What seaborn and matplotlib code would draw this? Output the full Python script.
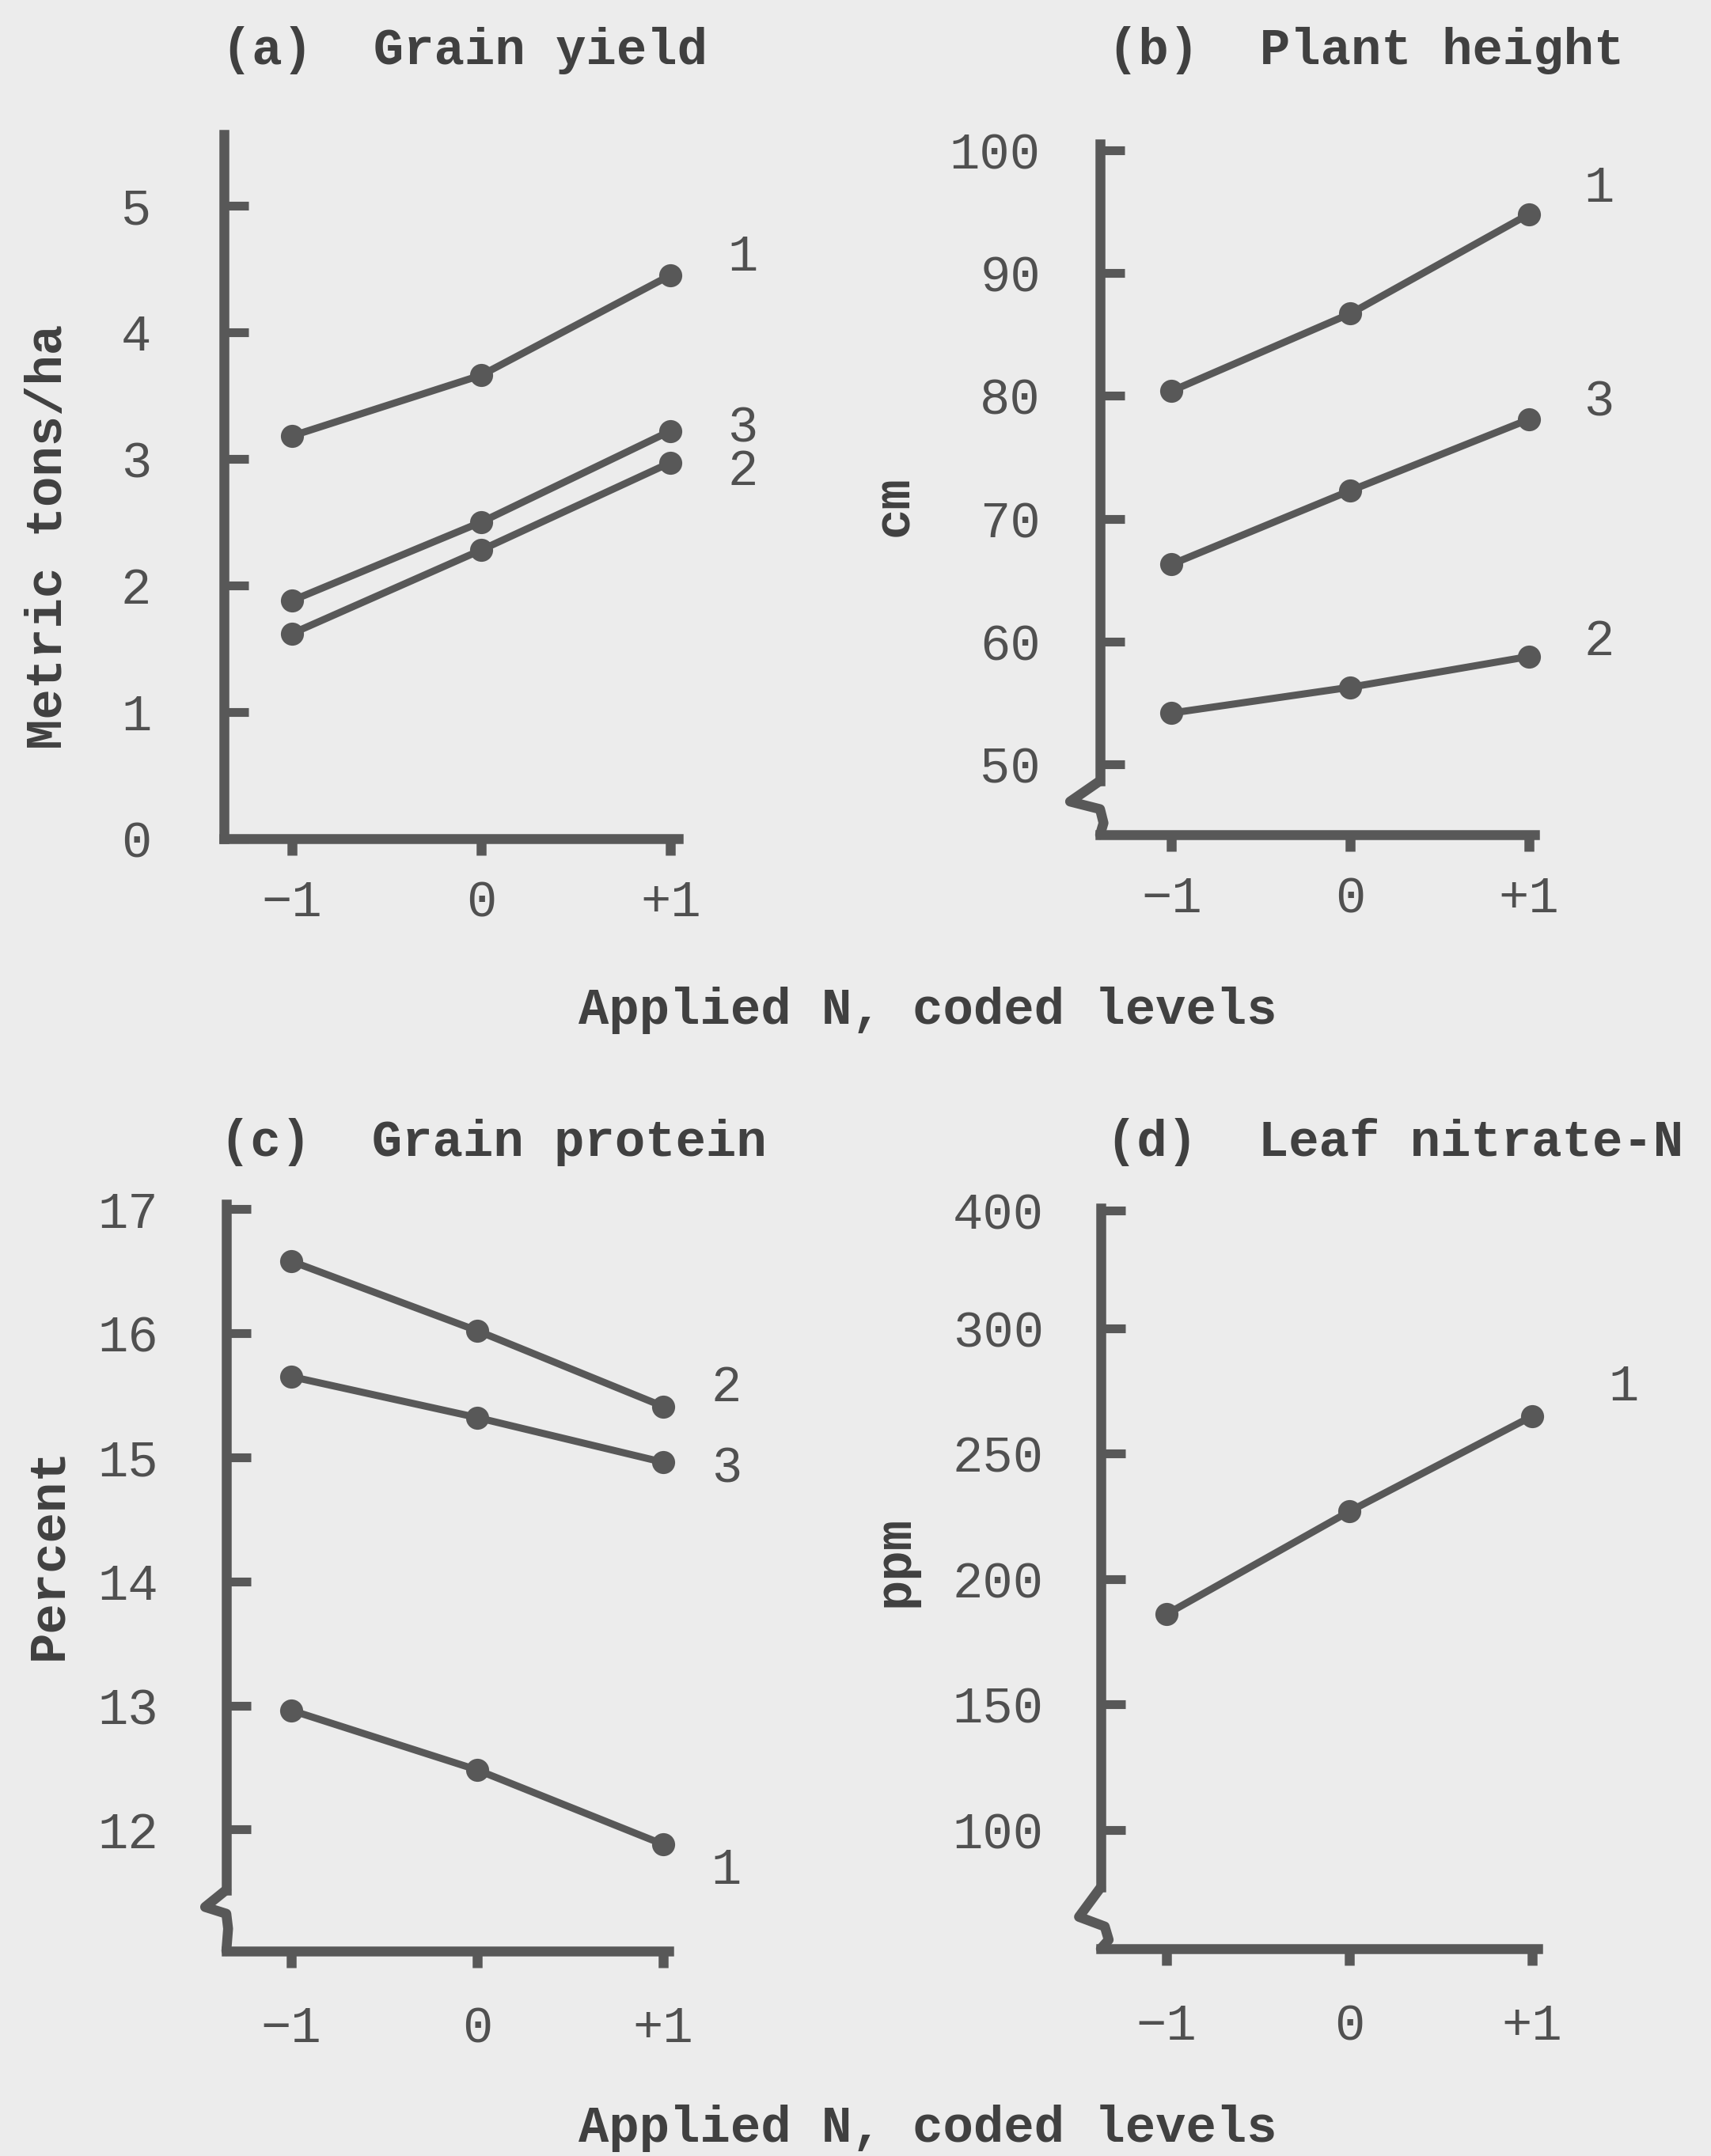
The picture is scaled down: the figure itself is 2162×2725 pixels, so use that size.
#!/usr/bin/env python3
import matplotlib
matplotlib.use("Agg")
import matplotlib.pyplot as plt
import pandas as pd
import seaborn as sns

# coded N levels on the x axis
LEVELS = [-1, 0, 1]
X_TICK_LABELS = ["\u22121", "0", "+1"]

# (a) grain yield, metric tons/ha
YIELD_1 = [3.18, 3.66, 4.45]
YIELD_2 = [1.62, 2.28, 2.97]
YIELD_3 = [1.88, 2.50, 3.22]

# (b) plant height, cm
HEIGHT_1 = [80.4, 86.7, 94.8]
HEIGHT_2 = [54.2, 56.3, 58.8]
HEIGHT_3 = [66.3, 72.3, 78.1]

# (c) grain protein, percent
PROTEIN_1 = [12.96, 12.48, 11.88]
PROTEIN_2 = [16.58, 16.02, 15.41]
PROTEIN_3 = [15.65, 15.32, 14.96]

# (d) leaf nitrate-N, ppm
NITRATE_1 = [186, 227, 265]

YTICKS_A = [0, 1, 2, 3, 4, 5]
YTICKS_B = [50, 60, 70, 80, 90, 100]
YTICKS_C = [12, 13, 14, 15, 16, 17]
# the top mark of (d) is labelled 400 in the original although it sits where 350 would be
YTICKS_D = [100, 150, 200, 250, 300, 347]
YTICK_LABELS_D = ["100", "150", "200", "250", "300", "400"]

BG = "#ececec"
INK = "#585858"
TEXT = "#404040"
TICK_TEXT = "#505050"
FONT = ["Liberation Mono", "DejaVu Sans Mono"]
FS = 46

W, H = 2162, 2725


def frac_box(left, top, right, bottom):
    return [left / W, 1 - bottom / H, (right - left) / W, (bottom - top) / H]


def long_frame(series):
    rows = []
    for name, values in series.items():
        for lvl, v in zip(LEVELS, values):
            rows.append({"level": lvl, "value": v, "series": name})
    return pd.DataFrame(rows)


def draw_panel(fig, box, series, xlim, ylim, yticks, yticklabels, ypad, xpad,
               labels, brk=None):
    ax = fig.add_axes(box)
    ax.set_facecolor(BG)
    df = long_frame(series)
    sns.lineplot(
        data=df, x="level", y="value", hue="series",
        palette={k: INK for k in series}, marker="o", markersize=21,
        markeredgewidth=0, linewidth=6.5, legend=False, ax=ax, sort=True,
    )
    for line in ax.get_lines():
        line.set_clip_on(False)
    ax.set_xlim(*xlim)
    ax.set_ylim(*ylim)
    ax.set_xticks(LEVELS)
    ax.set_xticklabels(X_TICK_LABELS)
    ax.set_yticks(yticks)
    ax.set_yticklabels(yticklabels)
    ax.set_xlabel("")
    ax.set_ylabel("")
    ax.grid(False)
    for side in ["top", "right"]:
        ax.spines[side].set_visible(False)
    for side in ["left", "bottom"]:
        ax.spines[side].set_color(INK)
        ax.spines[side].set_linewidth(9)
    ax.tick_params(axis="y", left=True, direction="in", length=22, width=8,
                   color=INK, pad=ypad, labelsize=FS, labelcolor=TICK_TEXT)
    ax.tick_params(axis="x", bottom=True, direction="out", length=15, width=9,
                   color=INK, pad=xpad, labelsize=FS, labelcolor=TICK_TEXT)
    for lab in ax.get_xticklabels() + ax.get_yticklabels():
        lab.set_family(FONT)
    for text, x, y in labels:
        ax.text(x, y, text, ha="center", va="center", fontsize=FS,
                color=TICK_TEXT, family=FONT)
    if brk is not None:
        y0, y1 = ylim
        ax.spines["left"].set_bounds(y0 + brk[0][1] * (y1 - y0), y1)
        xs = [p[0] for p in brk] + [0]
        ys = [p[1] for p in brk] + [0]
        ax.plot(xs, ys, transform=ax.transAxes, clip_on=False, color=INK,
                lw=9, solid_joinstyle="round", solid_capstyle="round")
    return ax


def main():
    sns.set_theme(style="white")
    plt.rcParams["font.family"] = FONT
    fig = plt.figure(figsize=(W / 100, H / 100), dpi=100, facecolor=BG)

    draw_panel(
        fig, frac_box(283, 170, 857, 1060),
        {"1": YIELD_1, "2": YIELD_2, "3": YIELD_3},
        (-1.36, 1.04), (0, 5.56), YTICKS_A, [str(t) for t in YTICKS_A],
        ypad=66, xpad=22,
        labels=[("1", 1.38, 4.59), ("3", 1.38, 3.24), ("2", 1.38, 2.90)],
    )
    draw_panel(
        fig, frac_box(1390, 182, 1939, 1055),
        {"1": HEIGHT_1, "2": HEIGHT_2, "3": HEIGHT_3},
        (-1.40, 1.03), (44.3, 100.5), YTICKS_B, [str(t) for t in YTICKS_B],
        ypad=54, xpad=22,
        labels=[("1", 1.39, 96.9), ("3", 1.39, 79.5), ("2", 1.39, 60.0)],
        brk=[(0, 0.078), (-0.069, 0.048), (0, 0.037), (0.008, 0.017)],
    )
    draw_panel(
        fig, frac_box(286, 1522, 845, 2466),
        {"1": PROTEIN_1, "2": PROTEIN_2, "3": PROTEIN_3},
        (-1.35, 1.03), (11.02, 17.04), YTICKS_C, [str(t) for t in YTICKS_C],
        ypad=62, xpad=34,
        labels=[("2", 1.34, 15.56), ("3", 1.34, 14.91), ("1", 1.34, 11.67)],
        brk=[(0, 0.082), (-0.048, 0.059), (0, 0.05), (0.004, 0.03)],
    )
    draw_panel(
        fig, frac_box(1391, 1527, 1943, 2463),
        {"1": NITRATE_1},
        (-1.36, 1.03), (52.5, 348), YTICKS_D, YTICK_LABELS_D,
        ypad=52, xpad=34,
        labels=[("1", 1.50, 276.5)],
        brk=[(0, 0.083), (-0.05, 0.043), (0.009, 0.03), (0.018, 0.012)],
    )

    def ftext(x, y, s, **kw):
        fig.text(x / W, 1 - y / H, s, fontsize=FS, color=TEXT, family=FONT,
                 va="center", fontweight="bold", **kw)

    ftext(280, 64, "(a)  Grain yield", ha="left")
    ftext(1400, 64, "(b)  Plant height", ha="left")
    ftext(278, 1443, "(c)  Grain protein", ha="left")
    ftext(1398, 1443, "(d)  Leaf nitrate-N", ha="left")

    ftext(1172, 1277, "Applied N, coded levels", ha="center")
    ftext(1172, 2690, "Applied N, coded levels", ha="center")

    ftext(61, 678, "Metric tons/ha", ha="center", rotation=90)
    ftext(1130, 640, "cm", ha="center", rotation=90)
    ftext(61, 1964, "Percent", ha="center", rotation=90)
    ftext(1130, 1973, "ppm", ha="center", rotation=90)

    fig.savefig("out.png", dpi=100, facecolor=BG)
    plt.close(fig)


if __name__ == "__main__":
    main()
